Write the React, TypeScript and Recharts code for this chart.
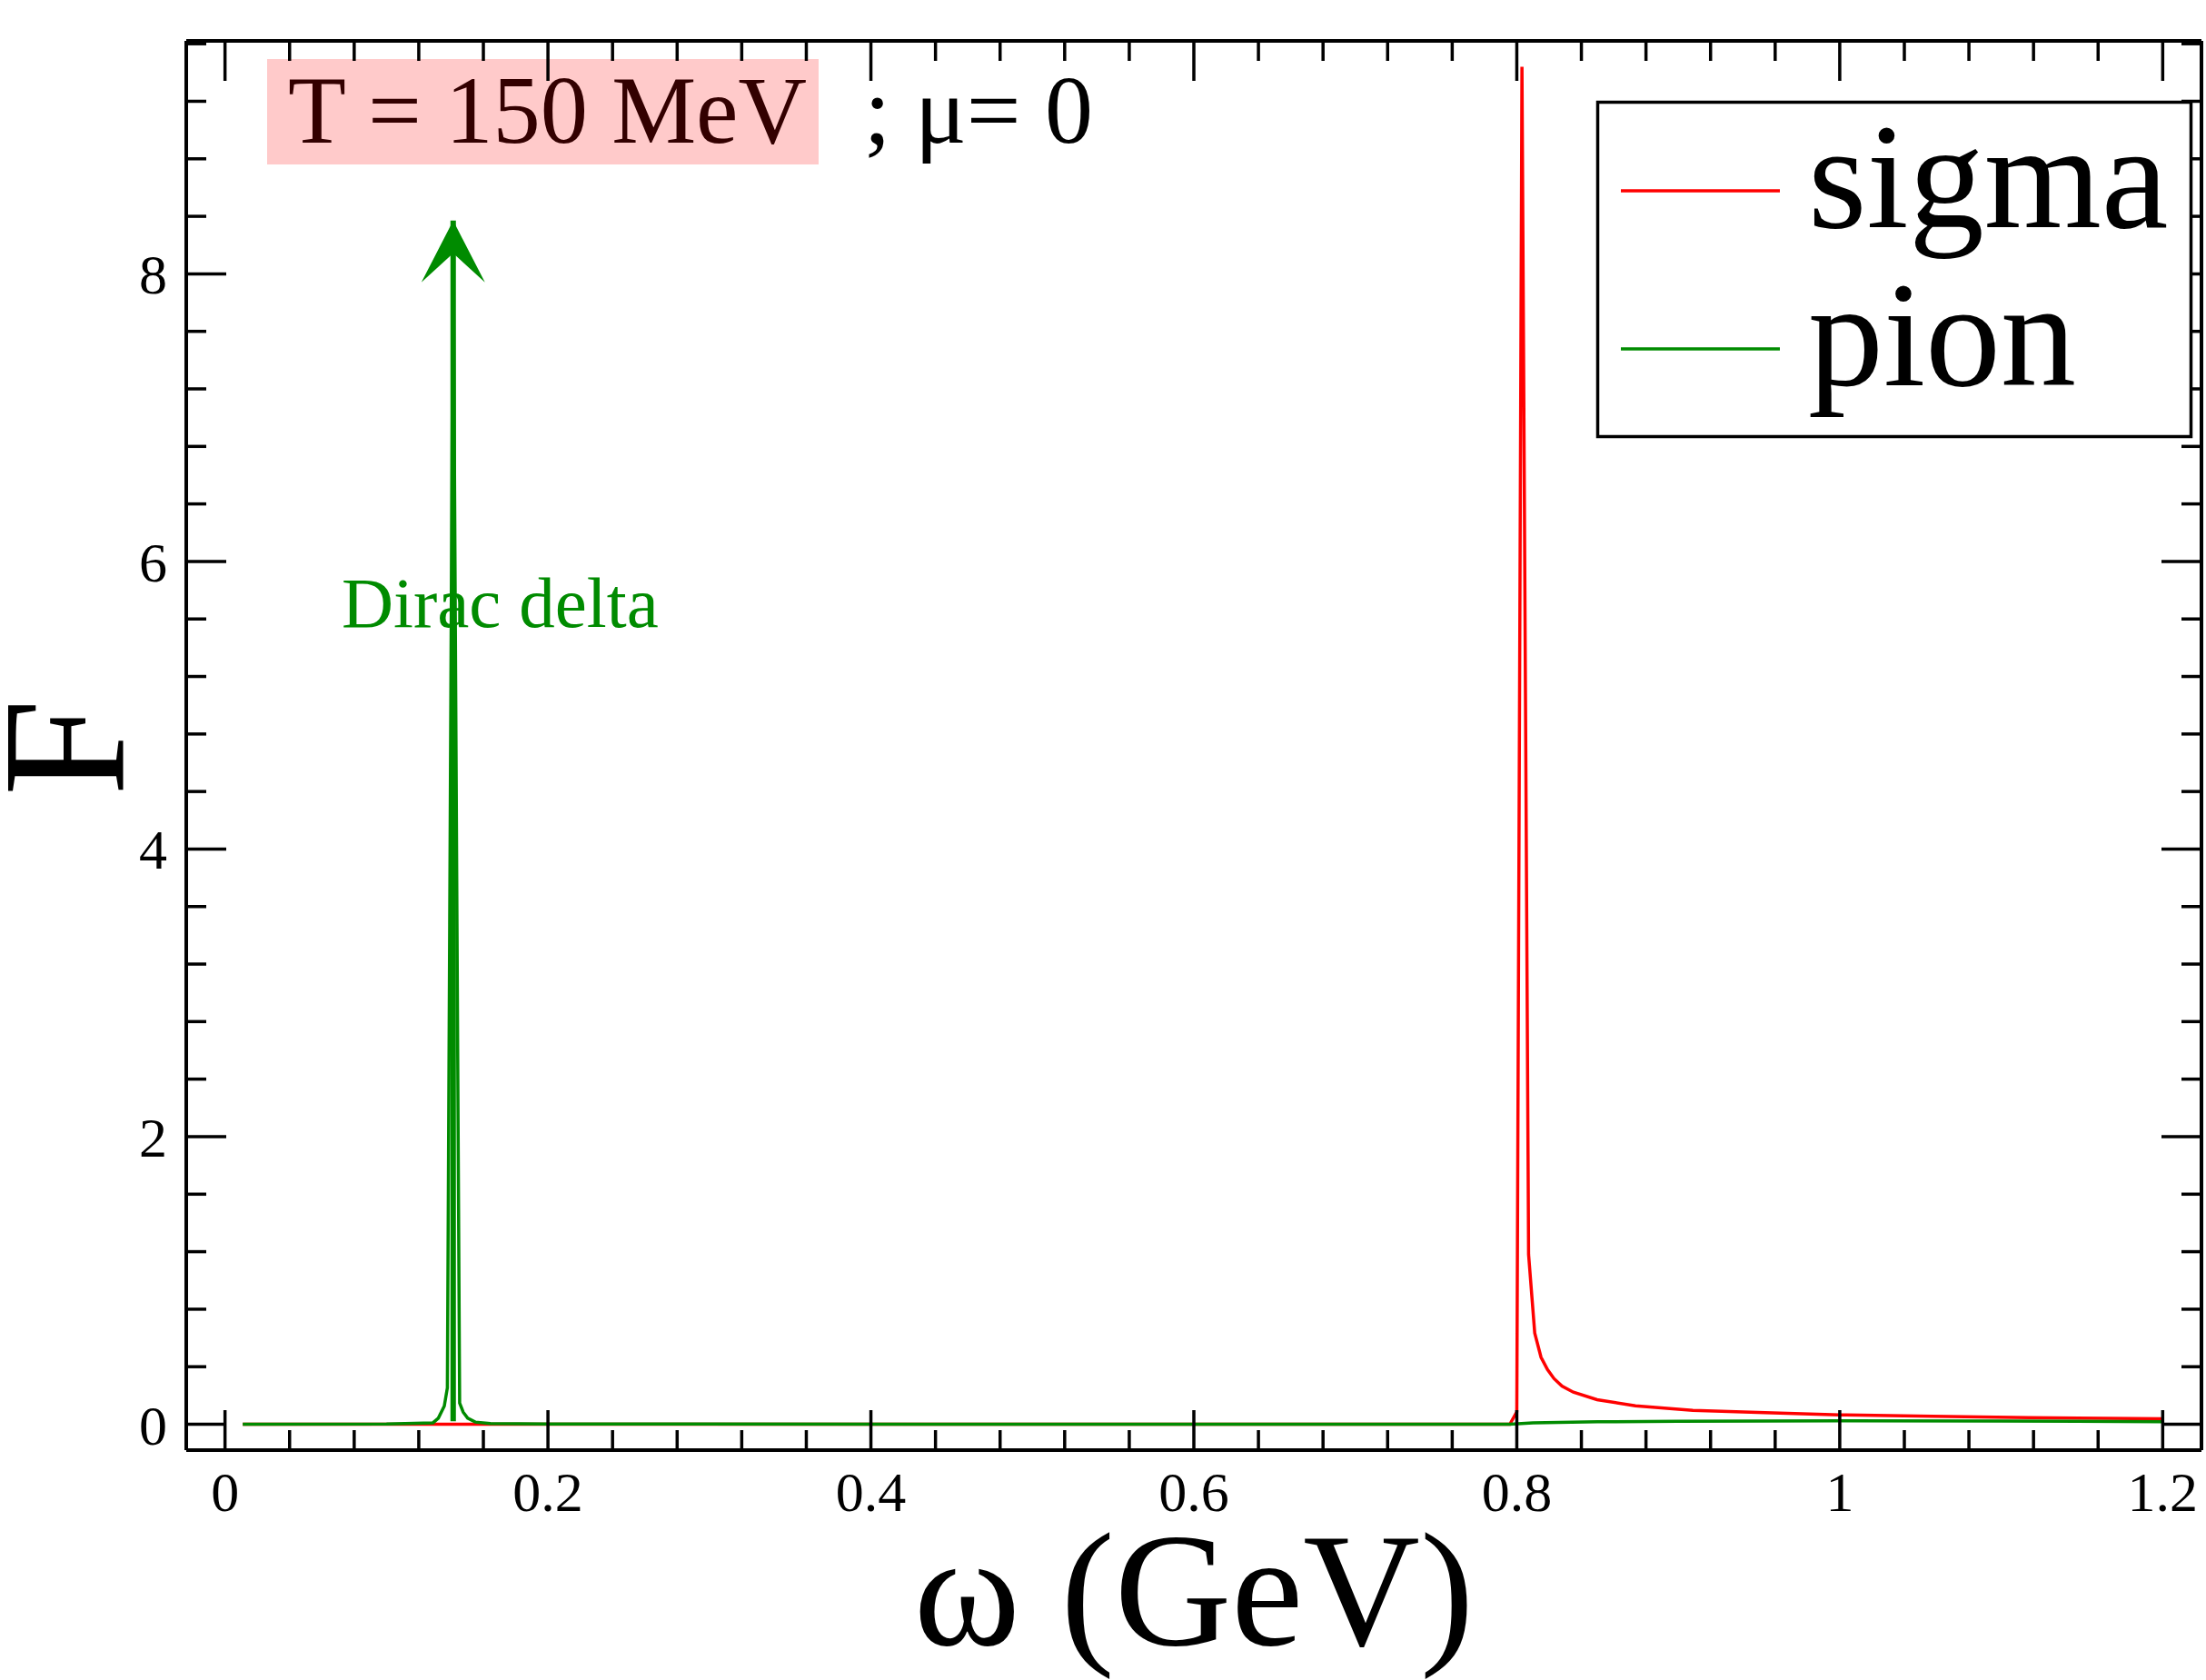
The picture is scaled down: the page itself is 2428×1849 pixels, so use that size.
import React from "react";
import { LineChart, Line, XAxis, YAxis, Legend } from "recharts";

const FONT = '"Liberation Serif", "Times New Roman", serif';
const RED = "#ff0000";
const GREEN = "#008b00";

// sigma spectral function
const sigmaX = [0.011, 0.3, 0.6, 0.7957, 0.8, 0.8032, 0.8073, 0.8111, 0.815, 0.819, 0.823, 0.828, 0.835, 0.8497, 0.8735, 0.909, 0.9537, 1.0, 1.0576, 1.117, 1.2];
const sigmaY = [0, 0, 0, 0, 0.087, 9.44, 1.18, 0.634, 0.466, 0.38, 0.318, 0.265, 0.223, 0.171, 0.128, 0.097, 0.08, 0.065, 0.055, 0.046, 0.038];

// pion spectral function, its peak hides under the arrow
const pionX = [0.011, 0.1, 0.1288, 0.1321, 0.1358, 0.1377, 0.1413, 0.1453, 0.1475, 0.1503, 0.155, 0.1644, 0.2, 0.5, 0.7957, 0.81, 0.85, 0.9, 1.0, 1.1, 1.2];
const pionY = [0, 0.002, 0.01, 0.042, 0.126, 0.253, 8.3, 0.147, 0.084, 0.042, 0.015, 0.005, 0.002, 0, 0, 0.01, 0.017, 0.021, 0.024, 0.022, 0.018];

// "Dirac delta" arrow
const arrowX = [0.1413, 0.1413];
const arrowY = [0.02, 8.37];

const seriesNames = ["sigma", "pion"];

const xDomain = [-0.024, 1.224];
const yDomain = [-0.18, 9.62];
const xTicks = [0, 0.04, 0.08, 0.12, 0.16, 0.2, 0.24, 0.28, 0.32, 0.36, 0.4, 0.44, 0.48, 0.52, 0.56, 0.6, 0.64, 0.68, 0.72, 0.76, 0.8, 0.84, 0.88, 0.92, 0.96, 1, 1.04, 1.08, 1.12, 1.16, 1.2];
const xMajor = [0, 0.2, 0.4, 0.6, 0.8, 1, 1.2];
const yTicks = [0, 0.4, 0.8, 1.2, 1.6, 2, 2.4, 2.8, 3.2, 3.6, 4, 4.4, 4.8, 5.2, 5.6, 6, 6.4, 6.8, 7.2, 7.6, 8, 8.4, 8.8, 9.2, 9.6];
const yMajor = [0, 2, 4, 6, 8];

const toPoints = (xs: number[], ys: number[]) => xs.map((x, i) => ({ x, y: ys[i] }));
const sigmaData = toPoints(sigmaX, sigmaY);
const pionData = toPoints(pionX, pionY);
const arrowData = toPoints(arrowX, arrowY);

const findMajor = (v: number, majors: number[]) => majors.find((m) => Math.abs(m - v) < 1e-6);

// ticks point into the frame, labels only on bottom/left
function makeTick(side: "bottom" | "top" | "left" | "right", majors: number[]) {
  return (props: any) => {
    const { x, y, payload, index } = props;
    const m = findMajor(payload.value, majors);
    const len = m !== undefined ? 44 : 22;
    let x2 = x;
    let y2 = y;
    if (side === "bottom") y2 = y - len;
    if (side === "top") y2 = y + len;
    if (side === "left") x2 = x + len;
    if (side === "right") x2 = x - len;
    return (
      <g key={`${side}-${index}`}>
        <line x1={x} y1={y} x2={x2} y2={y2} stroke="#000" strokeWidth={3.5} />
        {m !== undefined && side === "bottom" && (
          <text x={x} y={y + 67} textAnchor="middle" fontSize={62} fontFamily={FONT} fill="#000">
            {String(m)}
          </text>
        )}
        {m !== undefined && side === "left" && (
          <text x={x - 21} y={y + 22} textAnchor="end" fontSize={62} fontFamily={FONT} fill="#000">
            {String(m)}
          </text>
        )}
      </g>
    );
  };
}

const ArrowHead = (props: any) => {
  const { cx, cy, index } = props;
  if (index !== arrowData.length - 1) return <g key={`ah-${index}`} />;
  const d = `M${cx},${cy} L${cx + 35},${cy + 68} L${cx},${cy + 36} L${cx - 35},${cy + 68} Z`;
  return <path key={`ah-${index}`} d={d} fill={GREEN} />;
};

const renderLegend = (props: any) => {
  const items = (props.payload || [])
    .filter((p: any) => p.type !== "none" && seriesNames.includes(p.value))
    .sort((a: any, b: any) => seriesNames.indexOf(a.value) - seriesNames.indexOf(b.value));
  return (
    <svg width={656} height={371} style={{ display: "block", overflow: "visible" }}>
      <rect x={1.5} y={1.5} width={653} height={368} fill="#fff" stroke="#000" strokeWidth={3.5} />
      {items.map((p: any, i: number) => (
        <g key={p.value}>
          <line x1={27} x2={202} y1={99 + i * 174} y2={99 + i * 174} stroke={p.color} strokeWidth={3.5} />
          <text x={233} y={139 + i * 174} fontSize={166} fontFamily={FONT} fill="#000">
            {p.value}
          </text>
        </g>
      ))}
    </svg>
  );
};

export default function App() {
  return (
    <div style={{ position: "absolute", left: 0, top: 0, width: 2428, height: 1849, background: "#fff" }}>
      <svg width={2428} height={1849} style={{ position: "absolute", left: 0, top: 0 }}>
        <rect x={294} y={65} width={607} height={116} fill="#ffcaca" />
        <text x={317} y={157} fontSize={106} fontFamily={FONT} fill="#330000" textLength={571} lengthAdjust="spacingAndGlyphs">
          T = 150 MeV
        </text>
        <text x={951} y={157} fontSize={106} fontFamily={FONT} fill="#000">
          ; μ= 0
        </text>
        <text x={376} y={690} fontSize={79} fontFamily={FONT} fill={GREEN}>
          Dirac delta
        </text>
      </svg>
      <div style={{ position: "relative" }}>
        <LineChart
          width={2428}
          height={1849}
          margin={{ top: 45, right: 5, bottom: 0, left: 0 }}
          style={{ fontFamily: FONT }}
        >
          <XAxis
            xAxisId="b"
            dataKey="x"
            type="number"
            domain={xDomain}
            allowDataOverflow
            ticks={xTicks}
            interval={0}
            height={253}
            tickSize={0}
            tickMargin={0}
            tickLine={false}
            tick={makeTick("bottom", xMajor)}
            axisLine={{ stroke: "#000", strokeWidth: 4 }}
            label={(lp: any) => {
              const vb = lp.viewBox || { x: 205, y: 1596, width: 2218, height: 253 };
              return (
                <text x={vb.x + vb.width / 2} y={vb.y + 214} textAnchor="middle" fontSize={178} fontFamily={FONT} fill="#000">
                  ω (GeV)
                </text>
              );
            }}
          />
          <XAxis
            xAxisId="t"
            dataKey="x"
            type="number"
            orientation="top"
            mirror
            domain={xDomain}
            allowDataOverflow
            ticks={xTicks}
            interval={0}
            height={1}
            tickSize={0}
            tickMargin={0}
            tickLine={false}
            tick={makeTick("top", xMajor)}
            axisLine={{ stroke: "#000", strokeWidth: 4 }}
          />
          <YAxis
            yAxisId="l"
            type="number"
            domain={yDomain}
            allowDataOverflow
            ticks={yTicks}
            interval={0}
            width={205}
            tickSize={0}
            tickMargin={0}
            tickLine={false}
            tick={makeTick("left", yMajor)}
            axisLine={{ stroke: "#000", strokeWidth: 4 }}
            label={(lp: any) => {
              const vb = lp.viewBox || { x: 0, y: 45, width: 205, height: 1551 };
              const cy = vb.y + vb.height / 2 + 2;
              return (
                <text x={136} y={cy} transform={`rotate(-90, 136, ${cy})`} textAnchor="middle" fontSize={192} fontFamily={FONT} fill="#000">
                  F
                </text>
              );
            }}
          />
          <YAxis
            yAxisId="r"
            type="number"
            orientation="right"
            mirror
            domain={yDomain}
            allowDataOverflow
            ticks={yTicks}
            interval={0}
            width={1}
            tickSize={0}
            tickMargin={0}
            tickLine={false}
            tick={makeTick("right", yMajor)}
            axisLine={{ stroke: "#000", strokeWidth: 4 }}
          />
          <Legend
            layout="vertical"
            align="center"
            verticalAlign="middle"
            itemSorter={null as any}
            wrapperStyle={{ left: 1757, top: 111, width: 656, height: 371 }}
            content={renderLegend}
          />
          <Line
            xAxisId="b"
            yAxisId="l"
            data={sigmaData}
            dataKey="y"
            name={seriesNames[0]}
            type="linear"
            stroke={RED}
            strokeWidth={3.5}
            dot={false}
            activeDot={false}
            isAnimationActive={false}
          />
          <Line
            xAxisId="b"
            yAxisId="l"
            data={pionData}
            dataKey="y"
            name={seriesNames[1]}
            type="linear"
            stroke={GREEN}
            strokeWidth={3.5}
            dot={false}
            activeDot={false}
            isAnimationActive={false}
          />
          <Line
            xAxisId="b"
            yAxisId="l"
            data={arrowData}
            dataKey="y"
            name="arrow"
            legendType="none"
            type="linear"
            stroke={GREEN}
            strokeWidth={6}
            dot={ArrowHead}
            activeDot={false}
            isAnimationActive={false}
          />
        </LineChart>
      </div>
    </div>
  );
}
